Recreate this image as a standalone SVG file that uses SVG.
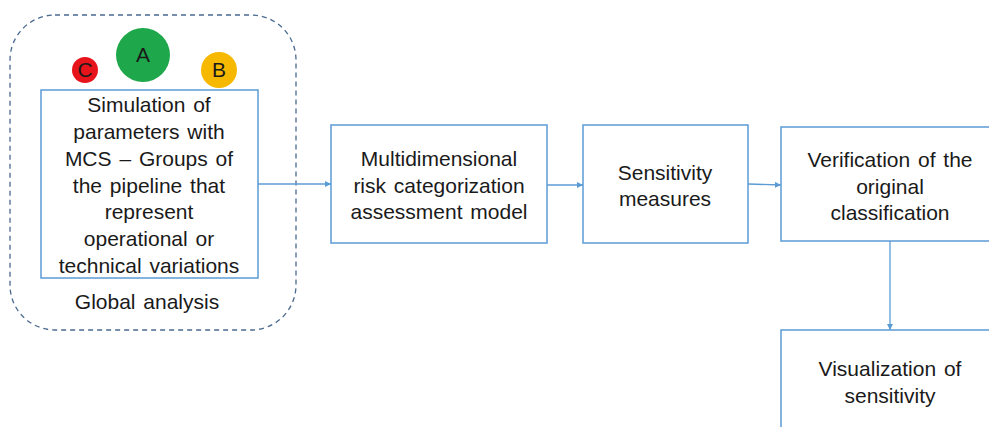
<svg xmlns="http://www.w3.org/2000/svg" width="989" height="427" viewBox="0 0 989 427">
<defs>
<style>
.box{fill:#fff;stroke:#5b9bd5;stroke-width:1.5}
.t{font-family:"Liberation Sans",Arial,sans-serif;font-size:21px;word-spacing:2px;fill:#1a1a1a;text-anchor:middle}
.c{stroke:#5b9bd5;stroke-width:1.3;fill:none;marker-end:url(#ah)}
</style>
<marker id="ah" viewBox="0 0 10 10" refX="10" refY="5" markerWidth="6" markerHeight="6" markerUnits="userSpaceOnUse" orient="auto"><path d="M0,0 L10,5 L0,10 z" fill="#5b9bd5"/></marker>
</defs>
<rect width="989" height="427" fill="#fff"/>
<g id="global">
<rect x="10" y="15" width="286" height="315" rx="45" fill="none" stroke="#4a6a8f" stroke-width="1.3" stroke-dasharray="5,4"/>
<text class="t" x="147" y="309">Global analysis</text>
</g>
<g id="circleA"><circle cx="143" cy="55" r="27" fill="#1ea84b"/><text class="t" x="143" y="62">A</text></g>
<g id="circleC"><circle cx="85" cy="70" r="13" fill="#e8141b"/><text class="t" x="85" y="77">C</text></g>
<g id="circleB"><circle cx="219" cy="70" r="18" fill="#f7b800"/><text class="t" x="219" y="77">B</text></g>
<g id="sim">
<rect class="box" x="41" y="90" width="217" height="188"/>
<text class="t"><tspan x="149" y="112">Simulation of</tspan><tspan x="149" y="139">parameters with</tspan><tspan x="149" y="166">MCS – Groups of</tspan><tspan x="149" y="193">the pipeline that</tspan><tspan x="149" y="219">represent</tspan><tspan x="149" y="246">operational or</tspan><tspan x="149" y="273">technical variations</tspan></text>
</g>
<g id="model">
<rect class="box" x="331" y="125" width="216" height="118"/>
<text class="t"><tspan x="439" y="166">Multidimensional</tspan><tspan x="439" y="193">risk categorization</tspan><tspan x="439" y="219">assessment model</tspan></text>
</g>
<g id="sens">
<rect class="box" x="583" y="125" width="165" height="118"/>
<text class="t"><tspan x="665" y="180">Sensitivity</tspan><tspan x="665" y="206">measures</tspan></text>
</g>
<g id="verif">
<rect class="box" x="781" y="127" width="215" height="114"/>
<text class="t"><tspan x="890" y="167">Verification of the</tspan><tspan x="890" y="194">original</tspan><tspan x="890" y="220">classification</tspan></text>
</g>
<g id="vis">
<rect class="box" x="781" y="330" width="215" height="110"/>
<text class="t"><tspan x="890" y="376">Visualization of</tspan><tspan x="890" y="403">sensitivity</tspan></text>
</g>
<g id="connectors">
<line class="c" x1="258" y1="184" x2="331" y2="184"/>
<line class="c" x1="547" y1="185" x2="583" y2="185"/>
<line class="c" x1="748" y1="184" x2="781" y2="185"/>
<line class="c" x1="890" y1="241" x2="890" y2="330"/>
</g>
</svg>
